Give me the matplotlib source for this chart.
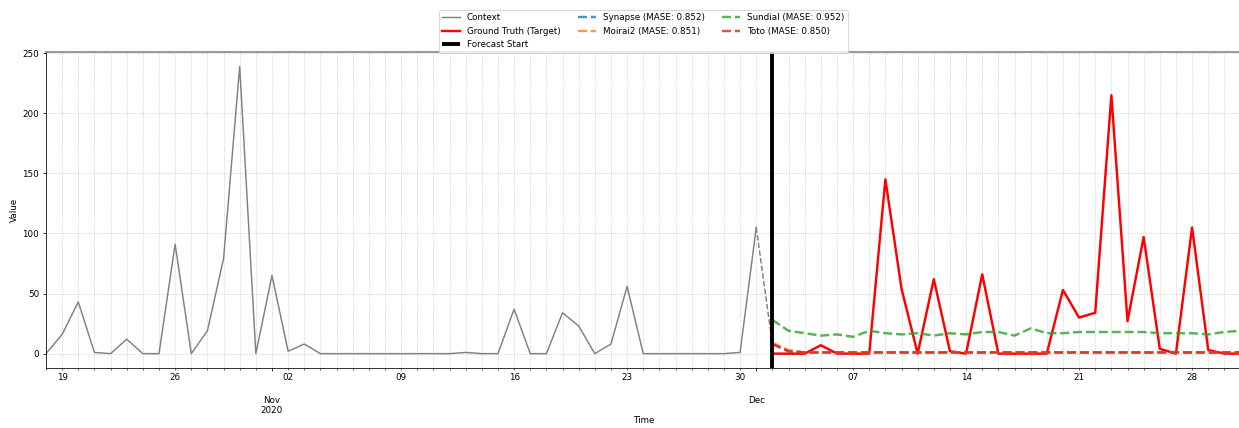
import pandas as pd
import matplotlib
matplotlib.use('Agg')
import matplotlib.pyplot as plt

plt.rcParams['font.size'] = 9

# daily series, context window then forecast horizon
context_start = '2020-10-18'
forecast_start = '2020-12-02'

context = [0, 16, 43, 1, 0, 12, 0, 0, 91, 0, 19, 79, 239, 0,
           65, 2, 8, 0, 0, 0, 0, 0, 0, 0, 0, 0, 1, 0, 0, 37, 0, 0, 34, 23, 0, 8, 56,
           0, 0, 0, 0, 0, 0, 1,
           105]

ground_truth = [0, 0, 0, 7, 0, 0, 0, 145, 54, 0, 62, 2, 0, 66, 0, 0, 0, 0,
                53, 30, 34, 215, 27, 97, 4, 0, 105, 3, 0, 0]

synapse = [8, 2, 1, 1, 1, 1, 1, 1, 1, 1, 1, 1, 1, 1, 1, 1, 1, 1,
           1, 1, 1, 1, 1, 1, 1, 1, 1, 1, 1, 1]
moirai2 = [9, 3, 1, 1, 1, 1, 1, 1, 1, 1, 1, 1, 1, 1, 1, 1, 1, 1,
           1, 1, 1, 1, 1, 1, 1, 1, 1, 1, 1, 1]
sundial = [28, 19, 17, 15, 16, 14, 19, 17, 16, 17, 15, 17, 16, 18, 18, 15, 21, 17,
           17, 18, 18, 18, 18, 18, 17, 17, 17, 16, 18, 19]
toto = [8, 2, 1, 1, 1, 1, 1, 1, 1, 1, 1, 1, 1, 1, 1, 1, 1, 1,
        1, 1, 1, 1, 1, 1, 1, 1, 1, 1, 1, 1]

models = [
    ('Synapse (MASE: 0.852)', synapse, 'tab:blue'),
    ('Moirai2 (MASE: 0.851)', moirai2, 'tab:orange'),
    ('Sundial (MASE: 0.952)', sundial, 'tab:green'),
    ('Toto (MASE: 0.850)', toto, 'tab:red'),
]

context_dates = pd.date_range(context_start, periods=len(context), freq='D')
forecast_dates = pd.date_range(forecast_start, periods=len(ground_truth), freq='D')

fig, ax = plt.subplots(figsize=(1239 / 70, 428 / 70), dpi=70)
# the right edge of the axes runs just past the picture, as in the original crop
fig.subplots_adjust(left=46 / 1239, right=1240.5 / 1239, top=1 - 52 / 428, bottom=1 - 368 / 428)

ax.plot(context_dates, context, color='gray', lw=1.5, label='Context')
# dashed link between the end of the context and the start of the forecasts
ax.plot([context_dates[-1], forecast_dates[0]], [context[-1], toto[0]],
        color='gray', ls='--', lw=1.5)
ax.plot(forecast_dates, ground_truth, color='red', lw=2.5, label='Ground Truth (Target)')
ax.axvline(pd.Timestamp(forecast_start), color='black', lw=4, label='Forecast Start',
           zorder=5, solid_capstyle='butt')

for name, vals, c in models:
    ax.plot(forecast_dates, vals, ls='--', lw=2.5, color=c, alpha=0.8, label=name)

# pandas-like date ticks: days on mondays, month names below
all_days = pd.date_range(context_dates[0], forecast_dates[-1], freq='D')
month_starts = pd.date_range(context_dates[0], forecast_dates[-1], freq='MS')
ax.set_xticks(all_days, [d.strftime('%d') if d.weekday() == 0 else '' for d in all_days],
              minor=True)
ax.set_xticks(month_starts, ['\n\n' + d.strftime('%b') + ('\n%d' % d.year if i == 0 else '')
                             for i, d in enumerate(month_starts)])
ax.set_xlim(all_days[0], all_days[-1])

ax.grid(True, which='both', color='#b0b0b0', ls=':', lw=0.8, alpha=0.8)
ax.spines['top'].set_color('#999999')
ax.spines['top'].set_linewidth(2)
ax.spines['right'].set_visible(False)

ax.set_xlabel('Time', labelpad=1)
ax.set_ylabel('Value')

ax.legend(loc='upper center', bbox_to_anchor=(0.5, 1.133), ncol=3, borderaxespad=0)

fig.savefig('out.png', dpi=70)
